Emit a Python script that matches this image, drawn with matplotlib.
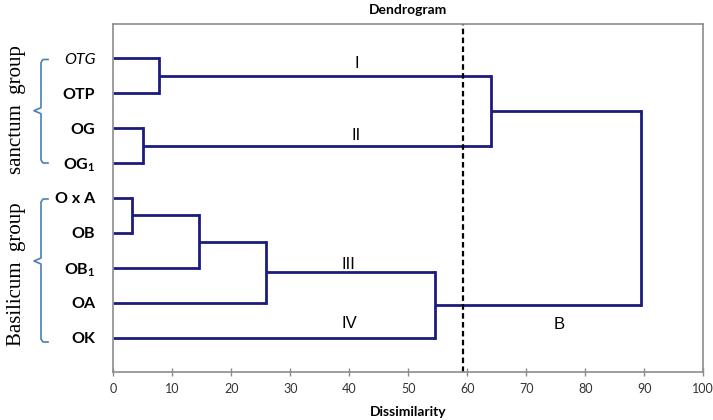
import matplotlib
matplotlib.use("Agg")
import matplotlib.pyplot as plt
from matplotlib.lines import Line2D

plt.rcParams['font.family'] = ['Lato', 'DejaVu Sans']
plt.rcParams['mathtext.fontset'] = 'custom'
plt.rcParams['mathtext.rm'] = 'Lato'
plt.rcParams['mathtext.bf'] = 'Lato:bold'

# leaves, top to bottom
leaves = ['OTG', 'OTP', 'OG', r'OG$_\mathbf{1}$', 'O x A', 'OB', r'OB$_\mathbf{1}$', 'OA', 'OK']

# merges: (child a, child b, dissimilarity); new clusters get ids 9, 10, ...
merges = [
    (4, 5, 3.2),
    (2, 3, 5.1),
    (0, 1, 7.7),
    (9, 6, 14.6),
    (12, 7, 25.8),
    (13, 8, 54.5),
    (11, 10, 64.0),
    (15, 14, 89.5),
]
cut_level = 59.3

cluster_names = ['I', 'II', 'III', 'IV', 'B']
cluster_name_pos = [(41.2, 0.16), (41.2, 2.22), (39.8, 5.89), (40.0, 7.58), (75.5, 7.61)]

groups = ['sanctum  group', 'Basilicum  group']
xticks = list(range(0, 101, 10))

line_col = '#1c1c7e'
frame_col = '#8c8c8c'

fig = plt.figure(figsize=(7.13, 4.2), dpi=100)
ax = fig.add_axes([113.3 / 713, 1 - 372.3 / 420, (703.3 - 113.3) / 713, (372.3 - 24) / 420])

# cluster positions
ypos = {i: float(i) for i in range(len(leaves))}
xpos = {i: 0.0 for i in range(len(leaves))}
nid = len(leaves)
for a, b, h in merges:
    for c in (a, b):
        ax.plot([xpos[c], h], [ypos[c], ypos[c]], color=line_col, lw=2, solid_capstyle='butt')
    ax.plot([h, h], [ypos[a], ypos[b]], color=line_col, lw=2, solid_capstyle='projecting')
    ypos[nid] = (ypos[a] + ypos[b]) / 2
    xpos[nid] = h
    nid += 1

ax.axvline(cut_level, color='black', lw=1.6, ls=(0, (2.5, 1.5)), ymin=0, ymax=1)

for name, (x, y) in zip(cluster_names, cluster_name_pos):
    ax.text(x, y, name, ha='center', va='center', fontsize=12,
            family=['Liberation Sans', 'DejaVu Sans'])

ax.set_xlim(0, 100)
ax.set_ylim(8.99, -0.98)
ax.set_xticks(xticks)
ax.set_xticklabels([str(t) for t in xticks], fontsize=9, color='#333333')
ax.tick_params(axis='x', direction='inout', length=6, width=1, color=frame_col, pad=5)

ax.set_yticks(range(len(leaves)))
ax.set_yticklabels(leaves, fontsize=11.5, fontweight='bold')
ax.tick_params(axis='y', length=0, pad=13)
for i, lab in enumerate(ax.get_yticklabels()):
    if i == 0:
        lab.set_fontweight('normal')
        lab.set_fontstyle('italic')

for s in ax.spines.values():
    s.set_color(frame_col)
    s.set_linewidth(1.2)

fig.text(408 / 713, 1 - 10 / 420, 'Dendrogram', ha='center', va='center', fontsize=10, fontweight='bold')
fig.text(408 / 713, 1 - 411.7 / 420, 'Dissimilarity', ha='center', va='center', fontsize=10, fontweight='bold')

# group braces and names (pixel coords)
brace_col = '#4a7ebb'
braces = [(59.5, 110.7, 163), (199, 261, 342)]
def px(x, y):
    return x / 713, 1 - y / 420
for (top, mid, bot), gname in zip(braces, groups):
    pts = [(48, top), (43, top), (41, top + 3), (41, mid - 3), (34, mid),
           (41, mid + 3), (41, bot - 3), (43, bot), (48, bot)]
    xs, ys = zip(*[px(x, y) for x, y in pts])
    fig.add_artist(Line2D(xs, ys, color=brace_col, lw=1.2))
gy = [110, 274]
for gname, y in zip(groups, gy):
    fig.text(17 / 713, 1 - y / 420, gname, rotation=90, ha='center', va='center',
             fontsize=15, family=['Liberation Serif', 'DejaVu Serif'])

fig.savefig('out.png', dpi=100)
